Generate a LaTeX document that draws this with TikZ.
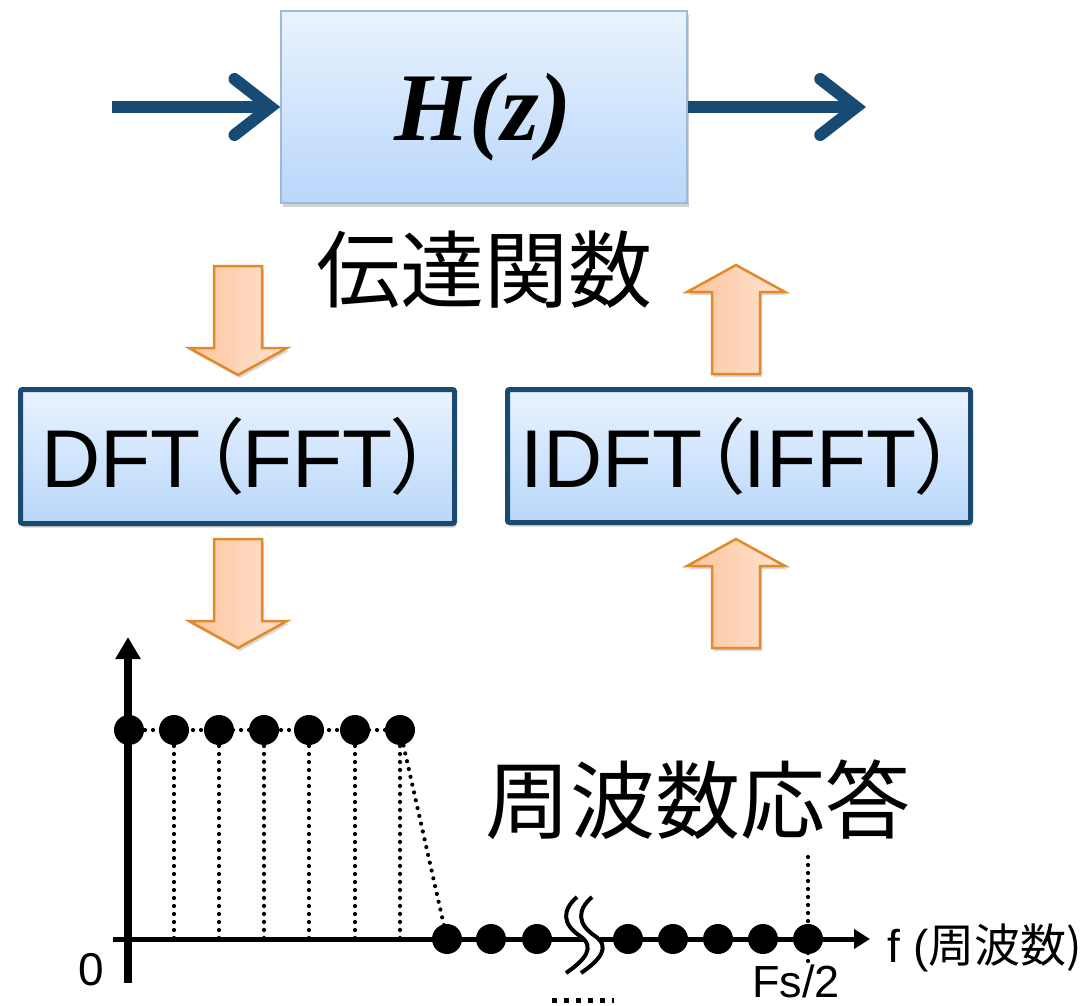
\documentclass[tikz,border=0pt]{standalone}
\usepackage{fontspec}
\setmainfont{Liberation Sans}
\newfontfamily\cjk{Noto Sans CJK JP}
\newfontfamily\cjkp[RawFeature=+palt]{Noto Sans CJK JP}
\newfontfamily\timesf{Liberation Serif}
\usetikzlibrary{arrows.meta}
\definecolor{boxtop}{HTML}{E9F3FE}
\definecolor{boxbot}{HTML}{B9D7FB}
\definecolor{hborder}{HTML}{9CB9DA}
\definecolor{fborder}{HTML}{1B4A70}
\definecolor{darkb}{HTML}{184B73}
\definecolor{oborder}{HTML}{E3892A}
\definecolor{oleft}{HTML}{FCC59C}
\definecolor{oright}{HTML}{FFE3D0}
\begin{document}
\begin{tikzpicture}[x=1pt,y=-1pt,
  gradbox/.style={top color=boxtop, bottom color=boxbot, inner sep=0pt},
  boxshadow/.style={preaction={fill=black, opacity=0.18, transform canvas={xshift=2pt,yshift=-4pt}}},
  hbox/.style={gradbox, boxshadow, draw=hborder, line width=1.5pt, minimum width=406pt, minimum height=192pt},
  fbox/.style={gradbox, boxshadow, draw=fborder, line width=5pt, rounded corners=2pt},
  darrow/.style={draw=darkb, line width=12pt, -{Straight Barb[length=36pt, width=56pt, line cap=round, line join=miter]}},
  dot/.style={circle, fill=black, inner sep=0pt, minimum size=30pt},
  dotline/.style={line width=4.2pt, dash pattern=on 0pt off 8pt, line cap=round},
  oarrow/.style={draw=oborder, line width=2.5pt, left color=oleft, right color=oright, line join=miter},
  downarr/.pic={
    \fill[black, opacity=0.15, shift={(2,3)}] (-24,0) -- (24,0) -- (24,82) -- (49,82) -- (0,109) -- (-49,82) -- (-24,82) -- cycle;
    \draw[oarrow] (-24,0) -- (24,0) -- (24,82) -- (49,82) -- (0,109) -- (-49,82) -- (-24,82) -- cycle;
  },
  uparr/.pic={
    \fill[black, opacity=0.15, shift={(2,3)}] (-24,0) -- (24,0) -- (24,-82) -- (49,-82) -- (0,-109) -- (-49,-82) -- (-24,-82) -- cycle;
    \draw[oarrow] (-24,0) -- (24,0) -- (24,-82) -- (49,-82) -- (0,-109) -- (-49,-82) -- (-24,-82) -- cycle;
  }
]
\useasboundingbox (0,0) rectangle (1089,1006);

% ---- H(z) block ----
\node[hbox] (H) at (484,107) {};
\node[font=\timesf\bfseries\itshape\fontsize{97}{100}\selectfont, inner sep=0pt] (Hz) at (483,117) {H(z)};
\coordinate (inL) at (112,107);
\coordinate (outR) at (866,107);
\draw[darrow] (inL) -- (H.west);
\draw[darrow] (H.east) -- (outR);

\node[font=\cjk\fontsize{84}{90}\selectfont, inner sep=0pt] (tf) at (484,270) {伝達関数};

% ---- block arrows ----
\pic at (238,266) {downarr};
\pic at (238,539) {downarr};
\pic at (736,374) {uparr};
\pic at (736,648) {uparr};

% ---- DFT / IDFT boxes ----
\node[fbox, minimum width=434pt, minimum height=134pt, font=\fontsize{82}{86}\selectfont] (dft) at (237.5,456.5) {DFT{\cjkp（}FFT{\cjkp）}};
\node[fbox, minimum width=463pt, minimum height=133pt, font=\fontsize{82}{86}\selectfont] (idft) at (739,456) {IDFT{\cjkp（}IFFT{\cjkp）}};

% ---- frequency response plot ----
\coordinate (O) at (128,939);
\coordinate (ybot) at (128,983);
\coordinate (ytop) at (128,637);
\coordinate (xl) at (113,939);
\coordinate (xr) at (870,939);

\node[dot] (t1) at (129,730) {};
\node[dot] (t2) at (174,730) {};
\node[dot] (t3) at (219,730) {};
\node[dot] (t4) at (264,730) {};
\node[dot] (t5) at (309,730) {};
\node[dot] (t6) at (355,730) {};
\node[dot] (t7) at (400,730) {};

\foreach \i in {2,...,7} \draw[dotline] (t\i.center) -- (t\i.center |- O);
\draw[dotline] (t1.center) -- (t7.center);

\coordinate (fsTop) at (808,857);
\coordinate (fsBot) at (808,968);
\draw[dotline] (fsTop) -- (fsBot);

\draw[line width=8pt, -{Triangle[length=22pt,width=24pt]}] (ybot) -- (ytop);
\draw[line width=5pt, -{Triangle[length=16pt,width=19pt]}] (xl) -- (xr);

\node[dot] (b1) at (447,939) {};
\node[dot] (b2) at (491,939) {};
\node[dot] (b3) at (537,939) {};
\draw[dotline] (t7.center) -- (b1.center);
\node[dot] (r1) at (628,939) {};
\node[dot] (r2) at (673,939) {};
\node[dot] (r3) at (718,939) {};
\node[dot] (r4) at (763,939) {};
\node[dot] (r5) at (808,939) {};

% break mark
\draw[white, line width=12pt] (584,897) .. controls (569,910) and (569,924) .. (587,936) .. controls (603,947) and (592,960) .. (573,973);
\foreach \d in {0,15}
  \draw[black, line width=4pt] ([xshift=\d pt]577,897) .. controls ([xshift=\d pt]562,910) and ([xshift=\d pt]562,924) .. ([xshift=\d pt]580,936) .. controls ([xshift=\d pt]596,947) and ([xshift=\d pt]585,960) .. ([xshift=\d pt]566,973);

% labels
\node[font=\fontsize{46}{50}\selectfont, inner sep=0pt] (zero) at (91,970) {0};
\node[font=\fontsize{45}{50}\selectfont, inner sep=0pt] (fs) at (796,981) {Fs/2};
\node[font=\fontsize{46}{50}\selectfont, inner sep=0pt] (flab) at (985,948) {f (\cjk{周波数})};
\node[font=\cjk\fontsize{85}{90}\selectfont, inner sep=0pt] (fr) at (698,800) {周波数応答};

\coordinate (cutL) at (552,1000);
\coordinate (cutR) at (614,1000);
\draw[line width=5pt, dash pattern=on 5pt off 7pt] (cutL) -- (cutR);
\end{tikzpicture}
\end{document}
